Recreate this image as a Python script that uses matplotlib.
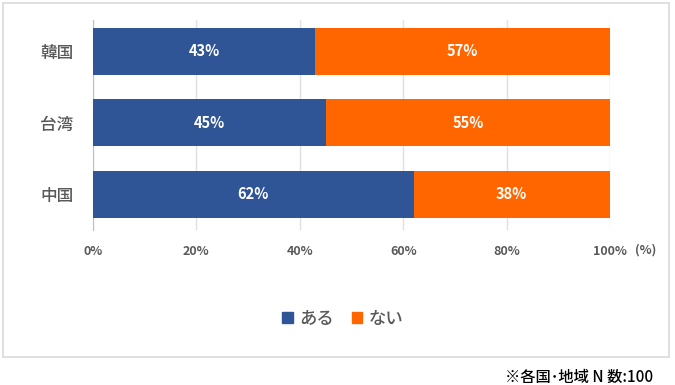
import matplotlib
matplotlib.use("Agg")
import matplotlib.pyplot as plt
from matplotlib.patches import Rectangle, Patch

plt.rcParams['font.family'] = ['Noto Sans CJK JP', 'DejaVu Sans']

categories = ['中国', '台湾', '韓国']
aru = [62, 45, 43]
nai = [38, 55, 57]
series_names = ['ある', 'ない']
xticks = [0, 20, 40, 60, 80, 100]
xticklabels = ['0%', '20%', '40%', '60%', '80%', '100%']

W, H = 675, 385
fig = plt.figure(figsize=(W/100, H/100), dpi=100)
fig.patch.set_facecolor('white')
fig.patches.append(Rectangle((3/W, 1-357/H), 666/W, 354/H, transform=fig.transFigure,
                             fill=False, edgecolor='#D9D9D9', linewidth=1.2))

ax = fig.add_axes([93/W, 1-230/H, 517/W, 210/H])
blue = '#2F5597'
orange = '#FF6600'
y = list(range(len(categories)))
ax.barh(y, aru, height=0.66, color=blue, label=series_names[0], zorder=3)
ax.barh(y, nai, left=aru, height=0.66, color=orange, label=series_names[1], zorder=3)
for i in y:
    ax.text(aru[i]/2, i, f'{aru[i]}%', ha='center', va='center', color='white',
            fontsize=10.5, fontweight='bold', zorder=4)
    ax.text(aru[i] + nai[i]/2, i, f'{nai[i]}%', ha='center', va='center', color='white',
            fontsize=10.5, fontweight='bold', zorder=4)

ax.set_xlim(0, 100)
ax.set_ylim(-0.5, 2.44)
ax.set_yticks(y)
ax.set_yticklabels(categories, fontsize=12, color='#595959', fontweight='medium')
ax.set_xticks(xticks)
ax.set_xticklabels(xticklabels, fontsize=9, color='#595959', fontweight='bold')
ax.tick_params(axis='both', length=0)
ax.tick_params(axis='x', pad=11)
ax.tick_params(axis='y', pad=14)
ax.grid(axis='x', color='#E0E0E0', linewidth=1, zorder=0)
for s in ['top', 'right', 'bottom']:
    ax.spines[s].set_visible(False)
ax.spines['left'].set_color('#BFBFBF')

fig.text(656/W, 1-250/H, '(%)', ha='right', va='center', fontsize=9, color='#595959', fontweight='bold')

handles = [Patch(color=blue), Patch(color=orange)]
fig.legend(handles, series_names, loc='center', bbox_to_anchor=(343/W, 1-319/H), ncol=2,
           frameon=False, prop={'size': 12.5, 'weight': 'medium'}, labelcolor='#595959',
           handlelength=0.6, handleheight=0.6, handletextpad=0.4, columnspacing=1.0)

fig.text(653/W, 1-377/H, '※各国･地域 N 数:100', ha='right', va='center', fontsize=11,
         color='black', fontweight='medium')

fig.savefig('out.png', dpi=100)
